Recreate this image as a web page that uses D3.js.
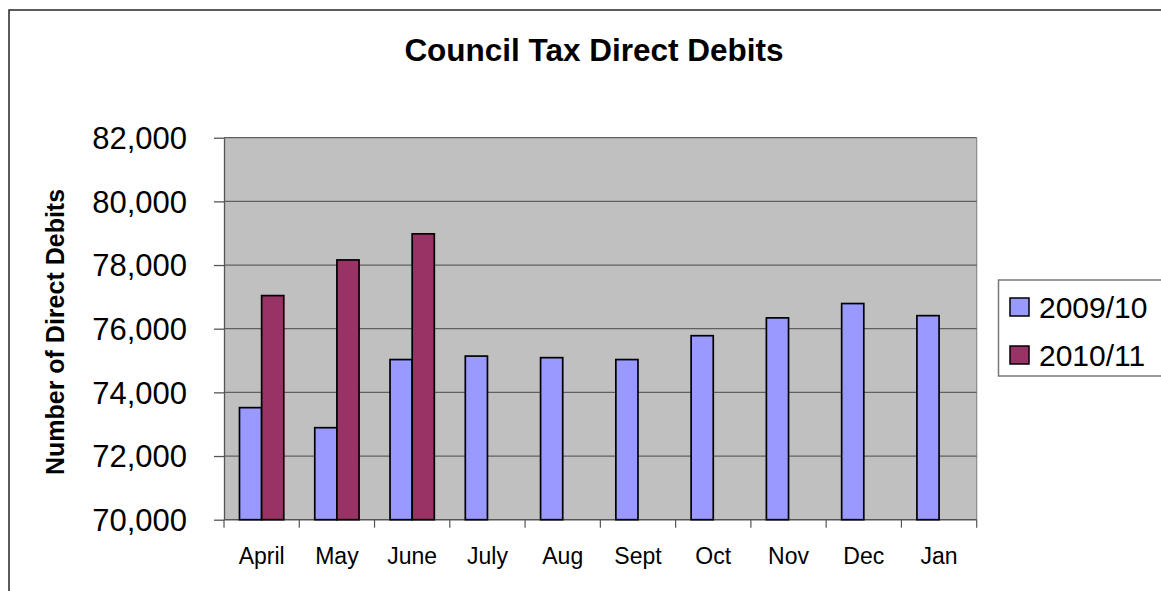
<!DOCTYPE html>
<html>
<head>
<meta charset="utf-8">
<script src="https://cdn.jsdelivr.net/npm/d3@7"></script>
<style>
html,body{margin:0;padding:0;background:#fff;}
svg{display:block;font-family:"Liberation Sans",Arial,sans-serif;}
</style>
</head>
<body>
<svg id="chart" width="1161" height="591"></svg>
<script>
const categories = ["April","May","June","July","Aug","Sept","Oct","Nov","Dec","Jan"];
const seriesNames = ["2009/10","2010/11"];
const values2009 = [73520, 72890, 75030, 75140, 75090, 75030, 75780, 76340, 76790, 76410];
const values2010 = [77040, 78160, 78980, null, null, null, null, null, null, null];
const yTicks = [70000, 72000, 74000, 76000, 78000, 80000, 82000];
const colors = ["#9999FF", "#993366"];

const svg = d3.select("#chart");
const W = 1161, H = 591;
const plot = {left: 224, right: 976.7, top: 137.7, bottom: 519.7};

// outer chart border (extends past right/bottom edges)
svg.append("rect").attr("x", 9).attr("y", 10).attr("width", W + 20).attr("height", H + 20)
  .attr("fill", "#fff").attr("stroke", "#333").attr("stroke-width", 1.6);

const x0 = d3.scaleBand().domain(categories).range([plot.left, plot.right]).paddingInner(0).paddingOuter(0);
const x1 = d3.scaleBand().domain(seriesNames).range([0, x0.bandwidth()]).paddingInner(0).paddingOuter(0.7);
const y = d3.scaleLinear().domain([70000, 82000]).range([plot.bottom, plot.top]);

// plot background
svg.append("rect").attr("x", plot.left).attr("y", plot.top)
  .attr("width", plot.right - plot.left).attr("height", plot.bottom - plot.top)
  .attr("fill", "#C0C0C0");
// right border of plot
svg.append("line").attr("x1", plot.right).attr("x2", plot.right).attr("y1", plot.top).attr("y2", plot.bottom)
  .attr("stroke", "#8a8a8a").attr("stroke-width", 1.2);

// gridlines
svg.append("g").selectAll("line").data(yTicks.slice(1)).join("line")
  .attr("x1", plot.left).attr("x2", plot.right)
  .attr("y1", d => y(d)).attr("y2", d => y(d))
  .attr("stroke", "#606060").attr("stroke-width", 1.3);

// y axis
const yAxis = d3.axisLeft(y).tickValues(yTicks).tickFormat(d3.format(",")).tickSizeInner(10).tickSizeOuter(0).tickPadding(27);
const gy = svg.append("g").attr("transform", `translate(${plot.left},0)`).call(yAxis);
gy.select(".domain").attr("stroke", "#555").attr("stroke-width", 1.3);
gy.selectAll(".tick line").attr("stroke", "#555").attr("stroke-width", 1.3);
gy.selectAll(".tick text").attr("font-size", 31).attr("fill", "#000")
  .attr("font-family", "'Liberation Sans', Arial, sans-serif").attr("dy", "0.35em");

// x axis
const xAxis = d3.axisBottom(x0).tickSize(0).tickPadding(0);
const gx = svg.append("g").attr("transform", `translate(0,${plot.bottom})`).call(xAxis);
gx.select(".domain").remove();
gx.selectAll(".tick text").attr("font-size", 23).attr("fill", "#000")
  .attr("font-family", "'Liberation Sans', Arial, sans-serif").attr("dy", "0").attr("y", 44.5);
// x ticks at category boundaries
const boundaries = categories.map(c => x0(c)).concat([plot.right]);
svg.append("g").selectAll("line").data(boundaries).join("line")
  .attr("x1", d => d).attr("x2", d => d).attr("y1", plot.bottom).attr("y2", plot.bottom + 8)
  .attr("stroke", "#555").attr("stroke-width", 1.2);
svg.append("line").attr("x1", plot.left).attr("x2", plot.right).attr("y1", plot.bottom).attr("y2", plot.bottom)
  .attr("stroke", "#555").attr("stroke-width", 1.5);

// bars
const rows = categories.map((c, i) => ({cat: c, vals: [values2009[i], values2010[i]]}));
const groups = svg.append("g").selectAll("g").data(rows).join("g")
  .attr("transform", d => `translate(${x0(d.cat)},0)`);
groups.selectAll("rect")
  .data(d => d.vals.map((v, j) => ({series: seriesNames[j], v, j})).filter(e => e.v != null))
  .join("rect")
  .attr("x", d => x1(d.series))
  .attr("width", x1.bandwidth())
  .attr("y", d => y(d.v))
  .attr("height", d => plot.bottom - y(d.v))
  .attr("fill", d => colors[d.j])
  .attr("stroke", "#000").attr("stroke-width", 1.7);

// title
svg.append("text").attr("x", 594).attr("y", 61).attr("text-anchor", "middle")
  .attr("font-size", 31.5).attr("font-weight", "bold").attr("fill", "#000")
  .text("Council Tax Direct Debits");

// y axis title
svg.append("text").attr("transform", "translate(63.5,332) rotate(-90)").attr("text-anchor", "middle")
  .attr("font-size", 25).attr("font-weight", "bold").attr("fill", "#000")
  .text("Number of Direct Debits");

// legend
const leg = svg.append("g");
leg.append("rect").attr("x", 998.5).attr("y", 280).attr("width", 200).attr("height", 96)
  .attr("fill", "#fff").attr("stroke", "#777").attr("stroke-width", 1.5);
const li = leg.selectAll("g").data(seriesNames).join("g")
  .attr("transform", (d, i) => `translate(0,${i * 48})`);
li.append("rect").attr("x", 1010).attr("y", 298).attr("width", 19).attr("height", 18)
  .attr("fill", (d, i) => colors[i]).attr("stroke", "#000").attr("stroke-width", 1.5);
li.append("text").attr("x", 1039).attr("y", 317.5).attr("font-size", 30).attr("fill", "#000")
  .text(d => d);
</script>
</body>
</html>
